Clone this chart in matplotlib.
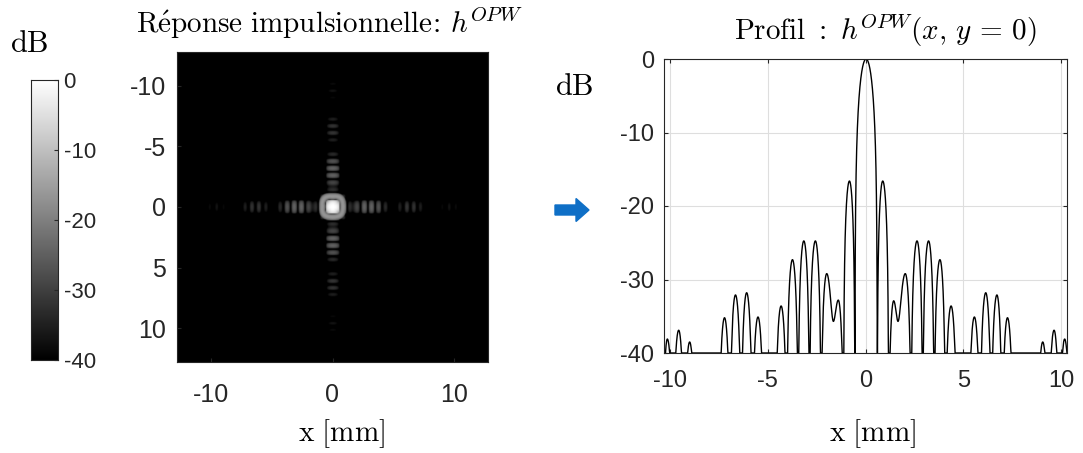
import numpy as np
import matplotlib
matplotlib.use("Agg")
import matplotlib.pyplot as plt
from matplotlib.patches import FancyArrow
from matplotlib.transforms import IdentityTransform

plt.rcParams['mathtext.fontset'] = 'cm'
plt.rcParams['font.family'] = ['Liberation Sans', 'DejaVu Sans']
plt.rcParams['axes.unicode_minus'] = False

# ---- data: lateral profile h^OPW(x, y=0), extrema (x in mm, level in dB)
ext_x = [-10.35, -10.12, -9.83, -9.54, -9.26, -8.98, -8.70, -7.48, -7.20, -6.92,
         -6.64, -6.35, -6.07, -5.78, -5.49, -5.20, -4.60, -4.31, -4.02, -3.73,
         -3.44, -3.15, -2.86, -2.56, -2.27, -1.98, -1.64, -1.39, -1.12, -0.82,
         -0.54, 0.03, 0.60, 0.88, 1.18, 1.44, 1.66, 2.03, 2.33, 2.63,
         2.92, 3.22, 3.51, 3.80, 4.08, 4.37, 4.66, 5.27, 5.56, 5.85,
         6.14, 6.42, 6.71, 6.98, 7.25, 7.54, 8.77, 9.05, 9.34, 9.63,
         9.90, 10.17, 10.45]
ext_db = [-40, -38.1, -40, -36.9, -40, -38.5, -40, -40, -35.2, -40,
          -32.1, -40, -31.8, -40, -35.1, -40, -40, -33.6, -40, -27.3,
          -40, -24.75, -40, -24.75, -40, -29.2, -35.7, -32.8, -40, -16.6,
          -40, 0.0, -40, -16.6, -40, -32.9, -35.7, -29.2, -40, -24.75,
          -40, -24.75, -40, -27.3, -40, -33.6, -40, -40, -35.1, -40,
          -31.8, -40, -32.1, -40, -35.2, -40, -40, -38.5, -40, -36.9,
          -40, -38.1, -40]

cbar_ticks = [0, -10, -20, -30, -40]
img_xticks = [-10, 0, 10]
img_yticks = [-10, -5, 0, 5, 10]
prof_xticks = [-10, -5, 0, 5, 10]
prof_yticks = [0, -10, -20, -30, -40]
FLOOR = -40.0


def lobe_amplitude(x):
    """Linear amplitude built lobe by lobe from the extrema read above."""
    x = np.asarray(x, float)
    amp = np.zeros_like(x)
    for i in range(len(ext_x) - 1):
        xa, xb, ya, yb = ext_x[i], ext_x[i + 1], ext_db[i], ext_db[i + 1]
        m = (x >= xa) & (x <= xb)
        if not m.any() or (ya <= FLOOR and yb <= FLOOR):
            continue
        if ya >= yb:   # peak at a, trough at b
            pk, tr, u = ya, yb, (xb - x[m]) / (xb - xa)
        else:
            pk, tr, u = yb, ya, (x[m] - xa) / (xb - xa)
        apk = 10 ** (pk / 20)
        if tr <= FLOOR:
            amp[m] = apk * np.sin(np.pi / 2 * u)
        else:
            atr = 10 ** (tr / 20)
            amp[m] = atr + (apk - atr) * np.sin(np.pi / 2 * u) ** 2
    return amp


def to_db(a):
    return np.clip(20 * np.log10(np.maximum(a, 1e-9)), FLOOR, 0)


W, H = 1083, 453
fig = plt.figure(figsize=(W / 100, H / 100), dpi=100)
fig.patch.set_facecolor('white')

def frac(l, t, r, b):
    return [l / W, (H - b) / H, (r - l) / W, (b - t) / H]

txtc = '#262626'

# ---- 2D image (cross-shaped PSF built from the same lobes)
g = np.linspace(-12.8, 12.8, 641)
X, Y = np.meshgrid(g, g)
Ax = lobe_amplitude(X)
Ay = lobe_amplitude(Y)
Mx = np.where(np.abs(X - 0.03) < 0.57, Ax, 0) ** 0.5
My = np.where(np.abs(Y - 0.03) < 0.57, Ay, 0) ** 0.5
R = (np.abs(X) ** 3 + np.abs(Y) ** 3) ** (1 / 3)
Ar = np.where(R < 1.18, lobe_amplitude(R + 0.03), 0)
I = np.maximum.reduce([Ax * My, Mx * Ay, Ar, Ax * Ay])
img = to_db(I)

ax1 = fig.add_axes(frac(177, 52, 488, 362))
ax1.imshow(img, cmap='gray', vmin=-40, vmax=0, extent=[-12.8, 12.8, 12.8, -12.8],
           aspect='auto', interpolation='bilinear')
ax1.set_xticks(img_xticks)
ax1.set_yticks(img_yticks)
ax1.tick_params(labelsize=18, colors=txtc, length=3, direction='in')
ax1.tick_params(axis='x', pad=15)
ax1.tick_params(axis='y', pad=8)
for s in ax1.spines.values():
    s.set_color(txtc)
    s.set_linewidth(0.8)

# ---- colorbar
cax = fig.add_axes(frac(31, 80, 58, 360))
grad = np.linspace(0, -40, 256).reshape(-1, 1)
cax.imshow(grad, cmap='gray', vmin=-40, vmax=0, extent=[0, 1, -40, 0], aspect='auto')
cax.set_xticks([])
cax.yaxis.tick_right()
cax.set_yticks(cbar_ticks)
cax.tick_params(axis='y', labelsize=16, colors=txtc, direction='in', length=3, pad=4)
for s in cax.spines.values():
    s.set_color(txtc)
    s.set_linewidth(0.8)

# ---- profile
ax2 = fig.add_axes(frac(664, 59, 1067, 353))
xs = np.linspace(ext_x[0], ext_x[-1], 12000)
ax2.plot(xs, to_db(lobe_amplitude(xs)), color='black', lw=1.0)
ax2.set_xlim(-10.29, 10.29)
ax2.set_ylim(-40, 0)
ax2.set_xticks(prof_xticks)
ax2.set_yticks(prof_yticks)
ax2.grid(True, color='#dedede', lw=0.8)
ax2.tick_params(labelsize=17, colors=txtc, direction='in', length=3,
                top=True, right=True)
ax2.tick_params(axis='x', pad=12)
ax2.tick_params(axis='y', pad=7)
for s in ax2.spines.values():
    s.set_color(txtc)
    s.set_linewidth(0.8)

# ---- texts
def ftext(px, py, s, va='baseline', **kw):
    fig.text(px / W, 1 - py / H, s, ha='center', va=va, **kw)

ftext(329, 33, r'$\mathrm{R\acute{e}ponse\ impulsionnelle}\!:\!\ h^{OPW}$', fontsize=21)
ftext(885, 40, r'$\mathrm{Profil\ :\ }h^{OPW}(x,\,y\,=\,0)$', fontsize=21)
ftext(29, 52, r'$\mathrm{dB}$', fontsize=22)
ftext(574, 95, r'$\mathrm{dB}$', fontsize=22)
ftext(342, 441, r'$\mathrm{x\ [mm]}$', fontsize=21)
ftext(873, 441, r'$\mathrm{x\ [mm]}$', fontsize=21)

arrow = FancyArrow(555, H - 210, 34, 0, width=10, head_width=23, head_length=13,
                   length_includes_head=True, color='#0F6FC6', transform=IdentityTransform())
fig.add_artist(arrow)

fig.savefig('out.png', dpi=100)
